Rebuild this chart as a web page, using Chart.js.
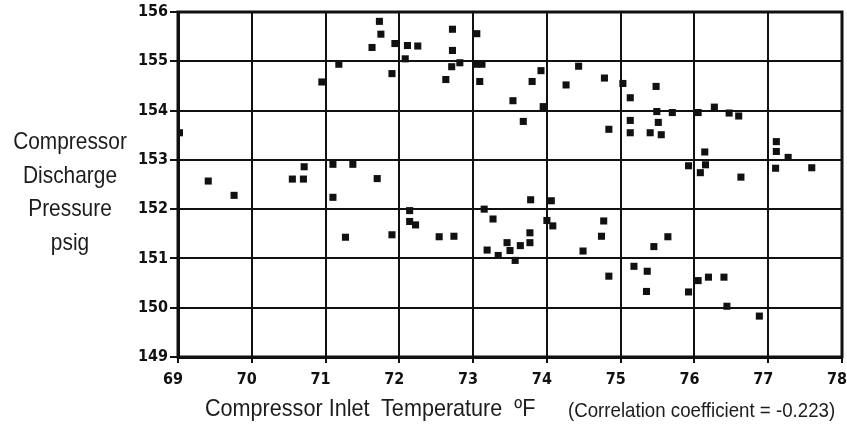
<!DOCTYPE html>
<html>
<head>
<meta charset="utf-8">
<script src="https://cdn.jsdelivr.net/npm/chart.js@4.4.1/dist/chart.umd.min.js"></script>
<style>
  body { margin: 0; background: #fff; }
  #wrap { position: relative; width: 847px; height: 430px; }
  .lbl { position: absolute; color: #1c1c1c; font-family: 'Liberation Sans', Arial, sans-serif; white-space: nowrap; }
  #ytitle { left: 2px; width: 136px; top: 124px; text-align: center; font-size: 24px; line-height: 33.5px; transform: scaleX(0.87); transform-origin: 68px 0; }
  #xtitle { left: 205px; top: 394px; font-size: 24px; transform: scaleX(0.9); transform-origin: 0 0; }
  #note { left: 568px; top: 398px; font-size: 21px; transform: scaleX(0.89); transform-origin: 0 0; }
</style>
</head>
<body>
<div id="wrap">
  <canvas id="myChart" width="847" height="430"></canvas>
  <div class="lbl" id="ytitle">Compressor<br>Discharge<br>Pressure<br>psig</div>
  <div class="lbl" id="xtitle">Compressor Inlet&nbsp; Temperature&nbsp; ºF</div>
  <div class="lbl" id="note">(Correlation coefficient = -0.223)</div>
</div>
<script>
// values
var inletTemp = [
    69.02, 69.41, 69.76, 70.55, 70.70, 70.71, 71.10, 71.37, 71.70, 71.10,
    71.27, 71.90, 72.14, 72.14, 72.22, 72.54, 72.74, 70.95, 71.18, 71.73,
    71.75, 71.63, 71.94, 72.11, 72.25, 72.08, 71.90, 72.72, 73.05, 72.72,
    72.82, 72.71, 72.63, 73.04, 73.12, 73.09, 73.92, 73.80, 73.54, 73.95,
    73.68, 74.26, 74.43, 74.78, 75.03, 75.13, 75.13, 75.13, 74.84, 75.48,
    75.49, 75.70, 76.05, 76.27, 76.47, 76.60, 75.51, 75.40, 75.55, 76.14,
    77.11, 77.11, 77.27, 77.59, 77.10, 75.92, 76.15, 76.08, 76.63, 73.15,
    73.27, 73.78, 74.06, 74.00, 74.08, 73.77, 73.77, 73.64, 73.46, 73.50,
    73.19, 73.34, 73.57, 74.77, 74.74, 74.49, 74.84, 75.18, 75.64, 75.45,
    75.36, 75.35, 75.92, 76.05, 76.19, 76.40, 76.44, 76.88
];
var dischargePressure = [
    153.55, 152.57, 152.28, 152.61, 152.61, 152.86, 152.91, 152.91, 152.62, 152.24,
    151.43, 151.48, 151.97, 151.75, 151.68, 151.44, 151.45, 154.58, 154.94, 155.81,
    155.55, 155.28, 155.36, 155.32, 155.31, 155.05, 154.75, 155.65, 155.56, 155.22,
    154.97, 154.89, 154.63, 154.94, 154.94, 154.59, 154.81, 154.59, 154.20, 154.08,
    153.78, 154.52, 154.90, 154.66, 154.55, 154.26, 153.80, 153.55, 153.62, 154.49,
    153.98, 153.96, 153.96, 154.07, 153.95, 153.89, 153.76, 153.55, 153.51, 153.16,
    153.37, 153.17, 153.05, 152.84, 152.83, 152.88, 152.90, 152.74, 152.65, 152.00,
    151.80, 152.19, 152.17, 151.77, 151.66, 151.52, 151.32, 151.26, 151.32, 151.16,
    151.17, 151.06, 150.96, 151.76, 151.45, 151.15, 150.64, 150.84, 151.44, 151.24,
    150.74, 150.33, 150.32, 150.55, 150.62, 150.62, 150.03, 149.83
];
var xRange = [69, 78];
var yRange = [149, 156];

var points = inletTemp.map(function(t, i) {
    return { x: t, y: dischargePressure[i] };
});

var tickFont = { family: "'DejaVu Sans Condensed', 'Liberation Sans', sans-serif", size: 16, weight: 'bold' };

// thick frame round the plot area
var framePlugin = {
    id: 'frame',
    afterDraw: function(chart) {
        var a = chart.chartArea, c = chart.ctx;
        c.save();
        c.strokeStyle = '#111';
        c.lineWidth = 3;
        c.strokeRect(a.left, a.top, a.right - a.left, a.bottom - a.top);
        c.restore();
    }
};

var ctx = document.getElementById('myChart').getContext('2d');
var myChart = new Chart(ctx, {
    type: 'scatter',
    data: {
        datasets: [{
            data: points,
            backgroundColor: '#111',
            borderWidth: 0,
            pointStyle: 'rect',
            pointRadius: 5
        }]
    },
    options: {
        responsive: false,
        animation: false,
        layout: { padding: { top: 12, right: 4, left: 0, bottom: 0 } },
        plugins: { legend: { display: false }, tooltip: { enabled: false } },
        scales: {
            x: {
                type: 'linear',
                min: xRange[0],
                max: xRange[1],
                afterFit: function(s) { s.height = 73; s.paddingLeft = 0; s.paddingRight = 0; },
                ticks: { stepSize: 1, color: '#111', font: tickFont, padding: 7, labelOffset: -5 },
                grid: { color: '#111', lineWidth: 2, tickLength: 6, tickColor: '#111' },
                border: { color: '#111', width: 3 }
            },
            y: {
                type: 'linear',
                min: yRange[0],
                max: yRange[1],
                afterFit: function(s) { s.width = 178; s.paddingTop = 0; s.paddingBottom = 0; },
                ticks: { stepSize: 1, color: '#111', font: tickFont, padding: 2 },
                grid: { color: '#111', lineWidth: 2, tickLength: 8, tickColor: '#111' },
                border: { color: '#111', width: 3 }
            }
        }
    },
    plugins: [framePlugin]
});
</script>
</body>
</html>
